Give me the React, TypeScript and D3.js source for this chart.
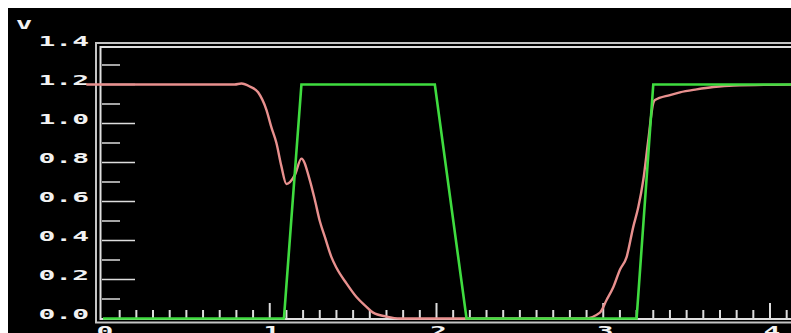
import React from 'react';
import * as d3 from 'd3';

// output node (pink) - time in ns, volts
const RED_T = [-0.1, 0.79, 0.83, 0.88, 0.93, 0.98, 1.01, 1.04, 1.07, 1.10, 1.15, 1.19, 1.24, 1.27, 1.30, 1.33, 1.37, 1.40, 1.46, 1.52, 1.58, 1.62, 1.70, 1.78, 2.86, 2.89, 2.98, 3.02, 3.06, 3.10, 3.14, 3.18, 3.21, 3.24, 3.27, 3.30, 3.31, 3.40, 3.46, 3.56, 3.66, 3.78, 4.2];
const RED_V = [1.2, 1.2, 1.205, 1.19, 1.16, 1.07, 0.98, 0.90, 0.78, 0.69, 0.735, 0.82, 0.71, 0.61, 0.50, 0.42, 0.315, 0.26, 0.18, 0.11, 0.06, 0.03, 0.01, 0, 0, 0, 0.03, 0.095, 0.16, 0.25, 0.315, 0.47, 0.57, 0.71, 0.915, 1.105, 1.12, 1.146, 1.16, 1.175, 1.187, 1.195, 1.2];

// input pulse (green)
const GREEN_T = [0, 1.085, 1.19, 1.99, 2.18, 3.2, 3.3, 4.2];
const GREEN_V = [0, 0, 1.2, 1.2, 0, 0, 1.2, 1.2];

const Y_LABELS = ['0.0', '0.2', '0.4', '0.6', '0.8', '1.0', '1.2', '1.4'];
const Y_MAJOR = [0.2, 0.4, 0.6, 0.8, 1.0, 1.2];
const Y_MINOR = [0.1, 0.3, 0.5, 0.7, 0.9, 1.1, 1.3];
const X_LABELS = ['0', '1', '2', '3', '4'];

const W = 791;
const H = 333;

export default function App() {
  const x = d3.scaleLinear().domain([0, 4]).range([103, 770]);
  const y = d3.scaleLinear().domain([0, 1.4]).range([318.5, 45.5]);

  const line = d3.line<[number, number]>()
    .x(d => x(d[0]))
    .y(d => y(d[1]));
  const smooth = d3.line<[number, number]>()
    .x(d => x(d[0]))
    .y(d => y(d[1]))
    .curve(d3.curveMonotoneX);

  const red = RED_T.map((t, i) => [t, RED_V[i]] as [number, number]);
  const green = GREEN_T.map((t, i) => [t, GREEN_V[i]] as [number, number]);

  const xTicks = d3.range(1, 42).map(i => i / 10);
  const font = '"DejaVu Sans Mono", monospace';

  return (
    <svg width={W} height={H} style={{ position: 'absolute', left: 0, top: 0 }}>
      <rect x={0} y={0} width={W} height={H} fill="#fff" />
      <rect x={8} y={8} width={W - 8} height={H - 8} fill="#000" />

      {/* double frame */}
      <path d={`M${W + 5},43 H96 V322.5 H${W + 5}`} fill="none" stroke="#c4c4c4" strokeWidth={2} />
      <path d={`M${W + 5},47 H100.5 V319 H${W + 5}`} fill="none" stroke="#e0e0e0" strokeWidth={2} />

      {/* y ticks */}
      {Y_MINOR.map(v => (
        <line key={'mi' + v} x1={102} x2={120} y1={y(v)} y2={y(v)} stroke="#ddd" strokeWidth={1.5} />
      ))}
      {Y_MAJOR.map(v => (
        <line key={'ma' + v} x1={102} x2={135} y1={y(v)} y2={y(v)} stroke="#ddd" strokeWidth={1.5} />
      ))}

      {/* x ticks */}
      {xTicks.map(t => {
        const major = Math.abs(t - Math.round(t)) < 1e-6;
        return (
          <line key={'xt' + t} x1={x(t)} x2={x(t)} y1={319} y2={major ? 303 : 310}
            stroke="#ddd" strokeWidth={2} />
        );
      })}

      {/* labels, stretched like the old bitmap font */}
      <g transform="scale(2,1)" fontFamily={font} fontWeight="bold" fill="#f2f2f2">
        <text x={24 / 2} y={29} fontSize={13} textAnchor="middle">V</text>
        {Y_LABELS.map((s, i) => (
          <text key={s} x={89 / 2} y={y(i * 0.2) + 0.5} fontSize={14} textAnchor="end">{s}</text>
        ))}
        {X_LABELS.map((s, i) => (
          <text key={s} x={(x(i) + 2) / 2} y={336} fontSize={14} textAnchor="middle">{s}</text>
        ))}
      </g>

      <path d={smooth(red) || ''} fill="none" stroke="#e8908e" strokeWidth={2.4} />
      <path d={line(green) || ''} fill="none" stroke="#3fdc3f" strokeWidth={2.6} />
    </svg>
  );
}
